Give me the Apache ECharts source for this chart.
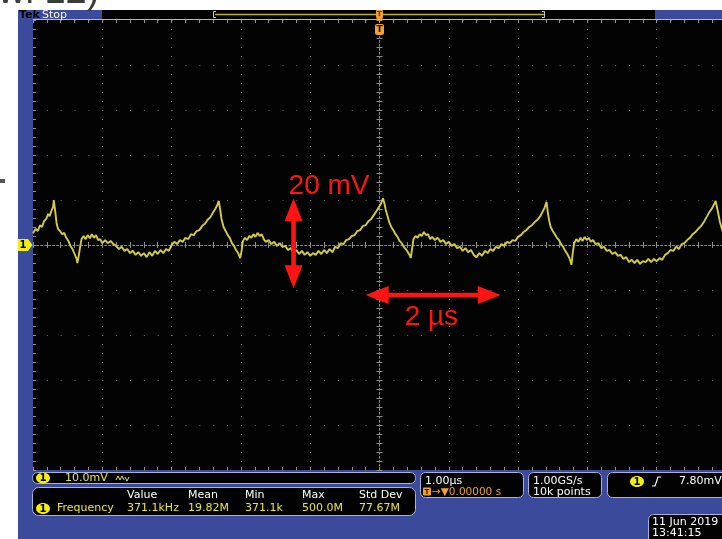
<!DOCTYPE html>
<html>
<head>
<meta charset="utf-8">
<script src="https://cdn.jsdelivr.net/npm/echarts@6/dist/echarts.min.js"></script>
<style>
  html, body { margin: 0; padding: 0; background: #ffffff; }
  #scope { width: 722px; height: 539px; }
</style>
</head>
<body>
<div id="scope"></div>
<script>
// Horizontal / vertical scale of the capture
const timePerDivUs = 1;        // 1.00 µs/div
const timeRangeUs = [-5, 5];
const voltsPerDivMv = 10;      // 10.0 mV/div
const voltRangeMv = [-50, 50];

// Channel 1 record: [time in µs, voltage in mV]
const traceSamples = [
  [-5.00, 2.6], [-4.96, 3.6], [-4.93, 3.1], [-4.90, 4.4], [-4.87, 4.0], [-4.84, 5.3],
  [-4.81, 5.8], [-4.78, 6.9], [-4.76, 6.4], [-4.73, 7.8], [-4.71, 8.4], [-4.70, 10.0],
  [-4.68, 7.6], [-4.66, 4.9], [-4.64, 3.6], [-4.61, 3.1], [-4.58, 2.4], [-4.55, 2.7],
  [-4.52, 1.6], [-4.49, 0.9], [-4.46, -0.2], [-4.43, -0.9], [-4.40, -2.0], [-4.37, -3.1],
  [-4.36, -4.0], [-4.34, -2.4], [-4.32, -0.4], [-4.30, 1.3], [-4.27, 2.0], [-4.24, 1.3],
  [-4.21, 2.2], [-4.18, 1.5], [-4.15, 2.4], [-4.12, 1.6], [-4.09, 2.2], [-4.06, 1.1],
  [-4.03, 1.3], [-4.00, 0.4], [-3.96, 1.1], [-3.92, 0.4], [-3.88, 0.9], [-3.84, 0.2],
  [-3.80, -0.2], [-3.76, -0.9], [-3.72, -0.4], [-3.68, -1.3], [-3.64, -0.9], [-3.60, -1.8],
  [-3.56, -1.3], [-3.52, -2.2], [-3.48, -1.6], [-3.44, -2.4], [-3.40, -1.8], [-3.36, -2.7],
  [-3.32, -1.6], [-3.28, -2.4], [-3.24, -1.3], [-3.20, -2.0], [-3.16, -1.1], [-3.12, -1.8],
  [-3.08, -0.9], [-3.04, -1.3], [-3.00, 0.0], [-2.96, 0.7], [-2.92, 0.2], [-2.88, 1.1],
  [-2.84, 0.7], [-2.80, 1.6], [-2.76, 1.3], [-2.72, 2.4], [-2.68, 2.2], [-2.64, 3.1],
  [-2.60, 3.3], [-2.56, 4.2], [-2.52, 4.7], [-2.48, 5.6], [-2.44, 6.2], [-2.40, 7.3],
  [-2.37, 8.0], [-2.34, 8.9], [-2.32, 9.8], [-2.30, 8.0], [-2.28, 5.8], [-2.25, 4.0],
  [-2.22, 3.1], [-2.19, 2.2], [-2.16, 1.6], [-2.13, 0.4], [-2.10, -0.2], [-2.07, -1.1],
  [-2.04, -1.8], [-2.01, -2.9], [-1.99, -1.3], [-1.97, 0.9], [-1.94, 1.6], [-1.91, 1.1],
  [-1.88, 2.0], [-1.85, 1.6], [-1.82, 2.4], [-1.79, 1.8], [-1.76, 2.7], [-1.73, 2.0],
  [-1.70, 2.4], [-1.67, 1.3], [-1.64, 0.7], [-1.60, 1.1], [-1.56, 0.2], [-1.52, 0.7],
  [-1.48, -0.2], [-1.44, 0.4], [-1.40, -0.4], [-1.36, -0.2], [-1.32, -1.1], [-1.28, -0.7],
  [-1.24, -1.6], [-1.20, -1.1], [-1.16, -2.0], [-1.12, -1.3], [-1.08, -2.2], [-1.04, -1.6],
  [-1.00, -2.4], [-0.96, -1.8], [-0.92, -2.2], [-0.88, -1.3], [-0.84, -2.0], [-0.80, -1.1],
  [-0.76, -1.8], [-0.72, -0.9], [-0.68, -1.6], [-0.64, -0.4], [-0.60, -0.7], [-0.56, 0.4],
  [-0.52, 0.2], [-0.48, 1.1], [-0.44, 1.3], [-0.40, 2.0], [-0.36, 2.2], [-0.32, 3.1],
  [-0.28, 3.3], [-0.24, 4.2], [-0.20, 4.4], [-0.16, 5.3], [-0.12, 5.8], [-0.08, 6.7],
  [-0.04, 7.6], [-0.01, 8.4], [0.02, 9.1], [0.05, 10.4], [0.07, 9.3], [0.09, 7.8],
  [0.11, 6.7], [0.14, 5.1], [0.17, 4.0], [0.20, 3.3], [0.23, 2.4], [0.26, 1.8],
  [0.29, 0.9], [0.32, 0.4], [0.35, -0.4], [0.38, -0.9], [0.41, -1.6], [0.44, -2.4],
  [0.45, -2.9], [0.47, -0.9], [0.49, 1.3], [0.52, 2.0], [0.55, 1.6], [0.58, 2.4],
  [0.61, 2.0], [0.64, 2.9], [0.67, 2.2], [0.70, 2.4], [0.73, 1.3], [0.76, 1.8],
  [0.80, 1.1], [0.84, 1.6], [0.88, 0.7], [0.92, 1.1], [0.96, 0.2], [1.00, 0.7],
  [1.04, -0.2], [1.08, 0.2], [1.12, -0.7], [1.16, -0.4], [1.20, -1.3], [1.24, -0.7],
  [1.28, -1.6], [1.32, -1.1], [1.36, -2.2], [1.40, -2.7], [1.44, -1.8], [1.48, -2.4],
  [1.52, -1.3], [1.56, -1.8], [1.60, -0.9], [1.64, -1.3], [1.68, -0.4], [1.72, -0.7],
  [1.76, 0.2], [1.80, -0.2], [1.84, 0.7], [1.88, 0.4], [1.92, 1.1], [1.96, 0.9],
  [2.00, 1.8], [2.04, 2.2], [2.08, 2.9], [2.12, 3.3], [2.16, 4.0], [2.20, 4.4],
  [2.24, 5.1], [2.28, 5.6], [2.32, 6.4], [2.35, 7.3], [2.38, 8.2], [2.41, 9.6],
  [2.43, 7.1], [2.45, 5.3], [2.47, 4.0], [2.50, 3.1], [2.53, 2.4], [2.56, 1.6],
  [2.59, 1.1], [2.62, 0.2], [2.65, -0.4], [2.68, -1.3], [2.71, -2.0], [2.74, -2.9],
  [2.77, -4.4], [2.79, -1.6], [2.81, 0.4], [2.84, 1.3], [2.87, 0.7], [2.90, 1.6],
  [2.93, 0.9], [2.96, 1.8], [2.99, 1.1], [3.02, 1.6], [3.05, 0.7], [3.08, 1.1],
  [3.12, 0.2], [3.16, 0.4], [3.20, -0.7], [3.24, -0.4], [3.28, -1.3], [3.32, -1.1],
  [3.36, -2.0], [3.40, -1.6], [3.44, -2.4], [3.48, -2.2], [3.52, -3.1], [3.56, -2.7],
  [3.60, -3.8], [3.64, -3.3], [3.68, -4.0], [3.72, -3.3], [3.76, -4.2], [3.80, -3.6],
  [3.84, -3.8], [3.88, -3.1], [3.92, -3.8], [3.96, -3.1], [4.00, -3.6], [4.04, -2.9],
  [4.08, -3.3], [4.12, -2.2], [4.16, -1.8], [4.20, -1.1], [4.24, -1.3], [4.28, -0.4],
  [4.32, -0.9], [4.36, 0.2], [4.40, 0.4], [4.44, 1.1], [4.48, 1.6], [4.52, 2.4],
  [4.56, 2.9], [4.60, 3.6], [4.64, 4.2], [4.68, 5.1], [4.72, 6.2], [4.76, 7.3],
  [4.80, 8.2], [4.83, 9.1], [4.85, 9.8], [4.87, 8.4], [4.89, 6.9], [4.91, 5.3],
  [4.94, 3.6], [4.97, 2.2], [5.00, 1.3]
];

// Measurement readout
const measHeaders = ['Value', 'Mean', 'Min', 'Max', 'Std Dev'];
const measValues = ['371.1kHz', '19.82M', '371.1k', '500.0M', '77.67M'];
const measName = 'Frequency';

// Status readouts
const channelScale = '10.0mV';
const horizScale = '1.00\u00b5s';
const triggerDelay = '\u2192\u25bc0.00000 s';
const sampleRate = '1.00GS/s';
const recordLength = '10k points';
const triggerLevel = '7.80mV';
const captureDate = '11 Jun 2019';
const captureTime = '13:41:15';

// Hand-drawn scale markers: amplitude bar at a fixed time, period bar at a fixed level
const amplitudeBar = { timeUs: -1.24, fromMv: 10.4, toMv: -9.6, label: '20 mV' };
const periodBar = { levelMv: -11.1, fromUs: -0.2, toUs: 1.75, label: '2 \u00b5s' };

const PANEL_BLUE = '#3b4a9b';
const BOX_EDGE = '#a9b1d6';
const YELLOW_TXT = '#e9e63c';
const TRACE = '#d2cc45';
const ORANGE = '#f2a12a';
const RED = '#ff1414';
const DOT = '#6e6e6e';
const CENTER = '#8c8c8c';
const UI_FONT = '"DejaVu Sans", "Noto Sans", sans-serif';

const chart = echarts.init(document.getElementById('scope'), null, { renderer: 'canvas', width: 722, height: 539 });

const tickLine = { color: CENTER, width: 1 };

function timeAxis(position, opts) {
  return {
    type: 'value', position: position,
    min: timeRangeUs[0], max: timeRangeUs[1], interval: timePerDivUs,
    axisLabel: { show: false },
    splitLine: opts.split ? { show: true, lineStyle: { color: DOT, width: 1, type: [1, 8] } } : { show: false },
    axisLine: opts.center
      ? { show: true, onZero: true, onZeroAxisIndex: 0, lineStyle: { color: CENTER, width: 1, type: [1.5, 2.5] } }
      : { show: false, onZero: false },
    axisTick: { show: true, inside: true, length: 3, lineStyle: tickLine },
    minorTick: { show: true, splitNumber: 5, length: 3, lineStyle: tickLine }
  };
}

function voltAxis(position, opts) {
  return {
    type: 'value', position: position,
    min: voltRangeMv[0], max: voltRangeMv[1], interval: voltsPerDivMv,
    axisLabel: { show: false },
    splitLine: opts.split ? { show: true, lineStyle: { color: DOT, width: 1, type: [1, 12.86] } } : { show: false },
    axisLine: opts.center
      ? { show: true, onZero: true, onZeroAxisIndex: 0, lineStyle: { color: CENTER, width: 1, type: [1.5, 2.5] } }
      : { show: false, onZero: false },
    axisTick: { show: true, inside: true, length: 3, lineStyle: tickLine },
    minorTick: { show: true, splitNumber: 5, length: 3, lineStyle: tickLine }
  };
}

chart.setOption({
  animation: false,
  backgroundColor: '#ffffff',
  grid: {
    left: 33, top: 20, width: 693, height: 450,
    show: true, backgroundColor: '#030303', borderWidth: 0,
    containLabel: false, outerBoundsMode: 'none'
  },
  xAxis: [
    timeAxis('bottom', { split: true }),
    timeAxis('top', {}),
    timeAxis('bottom', { center: true }),
    timeAxis('top', { center: true })
  ],
  yAxis: [
    voltAxis('left', { split: true }),
    voltAxis('right', {}),
    voltAxis('left', { center: true }),
    voltAxis('right', { center: true })
  ],
  series: [{
    type: 'line',
    xAxisIndex: 0, yAxisIndex: 0,
    data: traceSamples,
    showSymbol: false,
    clip: true,
    lineStyle: { color: TRACE, width: 1.9 },
    z: 5
  }]
});

// ---------- instrument chrome ----------
function txt(x, y, text, fill, size, extra) {
  return {
    type: 'text', x: x, y: y, z: 35,
    style: Object.assign({
      text: text, fill: fill,
      font: (size || 11) + 'px ' + UI_FONT,
      textAlign: 'left', textVerticalAlign: 'middle'
    }, extra || {})
  };
}
function box(x, y, w, h, r) {
  return { type: 'rect', z: 20, shape: { x: x, y: y, width: w, height: h, r: r },
           style: { fill: '#020202', stroke: BOX_EDGE, lineWidth: 1 } };
}
function badge(cx, cy) {
  return [
    { type: 'ellipse', z: 31, shape: { cx: cx, cy: cy, rx: 7, ry: 5.5 }, style: { fill: '#f4ee10' } },
    txt(cx, cy + 0.5, '1', '#000', 10, { textAlign: 'center', font: 'bold 10px ' + UI_FONT })
  ];
}

// Double-headed arrow polygon between two pixel points
function arrow(p0, p1) {
  const dx = p1[0] - p0[0], dy = p1[1] - p0[1];
  const len = Math.sqrt(dx * dx + dy * dy);
  const ux = dx / len, uy = dy / len, nx = -uy, ny = ux;
  const L = 23, H = 9, w = 2.3;
  const pt = (base, a, b) => [base[0] + ux * a + nx * b, base[1] + uy * a + ny * b];
  return {
    type: 'polygon', z: 40,
    shape: { points: [
      p0, pt(p0, L, H), pt(p0, L, w), pt(p1, -L, w), pt(p1, -L, H),
      p1, pt(p1, -L, -H), pt(p1, -L, -w), pt(p0, L, -w), pt(p0, L, -H)
    ] },
    style: { fill: RED }
  };
}

const toPx = (t, v) => chart.convertToPixel({ xAxisIndex: 0, yAxisIndex: 0 }, [t, v]);

const elements = [];

// page text cut off above the capture
elements.push({ type: 'text', x: -2, y: -7, z: 1,
  style: { text: 'wi 12)', fill: '#3c3c3c', font: '38px "Liberation Sans", Arial, sans-serif',
           textAlign: 'left', textVerticalAlign: 'middle' } });
elements.push({ type: 'rect', z: 1, shape: { x: 0, y: 179, width: 5, height: 4 }, style: { fill: '#555555' } });

// instrument frame
elements.push({ type: 'rect', z: -1, shape: { x: 18, y: 10, width: 704, height: 529 }, style: { fill: PANEL_BLUE } });

// top status strip
elements.push({ type: 'rect', z: 20, shape: { x: 102, y: 10, width: 553, height: 9 }, style: { fill: '#020202' } });
elements.push(txt(19, 15, 'Tek', '#000000', 11, { font: 'bold 11px ' + UI_FONT }));
elements.push(txt(42, 15, 'Stop', '#ffffff', 11));
elements.push({ type: 'line', z: 21, shape: { x1: 215, y1: 14.5, x2: 544, y2: 14.5 }, style: { stroke: '#b8b232', lineWidth: 1.5 } });
elements.push({ type: 'polyline', z: 21, shape: { points: [[216, 11.5], [213.5, 11.5], [213.5, 17.5], [216, 17.5]] }, style: { stroke: '#c8c8c8', lineWidth: 1, fill: null } });
elements.push({ type: 'polyline', z: 21, shape: { points: [[542, 11.5], [544.5, 11.5], [544.5, 17.5], [542, 17.5]] }, style: { stroke: '#c8c8c8', lineWidth: 1, fill: null } });
elements.push({ type: 'line', z: 22, shape: { x1: 33, y1: 19.5, x2: 722, y2: 19.5 }, style: { stroke: '#aeb6de', lineWidth: 1 } });

// trigger position markers
const trigX = toPx(0, 0)[0];
elements.push({ type: 'rect', z: 25, shape: { x: trigX - 3.5, y: 10, width: 7, height: 8, r: 1 }, style: { fill: ORANGE } });
elements.push({ type: 'polygon', z: 25, shape: { points: [[trigX - 3.5, 18], [trigX + 3.5, 18], [trigX, 22]] }, style: { fill: ORANGE } });
elements.push(txt(trigX, 14.5, 'T', '#5a3a00', 7, { textAlign: 'center', font: 'bold 7px ' + UI_FONT }));
elements.push({ type: 'rect', z: 25, shape: { x: trigX - 4.5, y: 24, width: 9, height: 11, r: 2 }, style: { fill: ORANGE } });
elements.push(txt(trigX, 30, 'T', '#1a1000', 9, { textAlign: 'center', font: 'bold 9px ' + UI_FONT }));

// channel 1 ground marker
const gndY = toPx(0, 0)[1];
elements.push({ type: 'polygon', z: 25, shape: { points: [[18, gndY - 6], [28, gndY - 6], [32.5, gndY], [28, gndY + 6], [18, gndY + 6]] }, style: { fill: '#f4ee10' } });
elements.push(txt(23, gndY + 0.5, '1', '#000', 10, { textAlign: 'center', font: 'bold 10px ' + UI_FONT }));

// vertical scale box
elements.push(box(32.5, 472.5, 383, 11, 5));
elements.push(...badge(43, 478));
elements.push(txt(65, 478.5, channelScale, YELLOW_TXT, 11));
elements.push({ type: 'polyline', z: 31, shape: { points: [[116, 480], [118, 476], [120, 480], [122, 476], [124, 480]] }, style: { stroke: YELLOW_TXT, lineWidth: 1, fill: null } });
elements.push({ type: 'polyline', z: 31, shape: { points: [[125, 477], [127, 481], [129, 477]] }, style: { stroke: YELLOW_TXT, lineWidth: 1, fill: null } });

// measurement box
elements.push(box(32.5, 487.5, 383, 28, 6));
const colX = [127, 188, 245, 302, 359];
measHeaders.forEach((h, i) => elements.push(txt(colX[i], 495, h, '#ffffff', 11)));
measValues.forEach((v, i) => elements.push(txt(colX[i], 508.5, v, YELLOW_TXT, 11)));
elements.push(...badge(43, 508.5));
elements.push(txt(57, 508.5, measName, YELLOW_TXT, 11));

// horizontal box
elements.push(box(420.5, 472.5, 103, 25, 5));
elements.push(txt(425, 481, horizScale, '#ffffff', 11));
elements.push({ type: 'rect', z: 31, shape: { x: 423, y: 487.5, width: 8, height: 8, r: 1 }, style: { fill: ORANGE } });
elements.push(txt(427, 492, 'T', '#2a1800', 7, { textAlign: 'center', font: 'bold 7px ' + UI_FONT }));
elements.push(txt(432, 492, triggerDelay, ORANGE, 10.5));

// acquisition box
elements.push(box(528.5, 472.5, 73, 25, 5));
elements.push(txt(533, 481, sampleRate, '#ffffff', 11));
elements.push(txt(533, 492, recordLength, '#ffffff', 11));

// trigger box
elements.push(box(607.5, 472.5, 125, 25, 5));
elements.push(...badge(637, 481.5));
elements.push({ type: 'polyline', z: 31, shape: { points: [[652, 486], [655, 486], [658, 477], [661, 477]] }, style: { stroke: '#ffffff', lineWidth: 1.2, fill: null } });
elements.push(txt(679, 481.5, triggerLevel, '#ffffff', 11));

// date box
elements.push(box(648.5, 514.5, 85, 30, 5));
elements.push(txt(652, 522.5, captureDate, '#ffffff', 11));
elements.push(txt(652, 533.5, captureTime, '#ffffff', 11));

// ---------- red scale markers ----------
const aTop = toPx(amplitudeBar.timeUs, amplitudeBar.fromMv);
const aBot = toPx(amplitudeBar.timeUs, amplitudeBar.toMv);
elements.push(arrow(aTop, aBot));
const pL = toPx(periodBar.fromUs, periodBar.levelMv);
const pR = toPx(periodBar.toUs, periodBar.levelMv);
elements.push(arrow(pL, pR));
elements.push({ type: 'text', x: aTop[0] - 5, y: aTop[1] - 12, z: 41,
  style: { text: amplitudeBar.label, fill: RED, font: '28px "Liberation Sans", Arial, sans-serif',
           textAlign: 'left', textVerticalAlign: 'middle' } });
elements.push({ type: 'text', x: pL[0] + 39, y: pL[1] + 22, z: 41,
  style: { text: periodBar.label, fill: RED, font: '28px "Liberation Sans", Arial, sans-serif',
           textAlign: 'left', textVerticalAlign: 'middle' } });

chart.setOption({ graphic: { elements: elements } });
</script>
</body>
</html>
